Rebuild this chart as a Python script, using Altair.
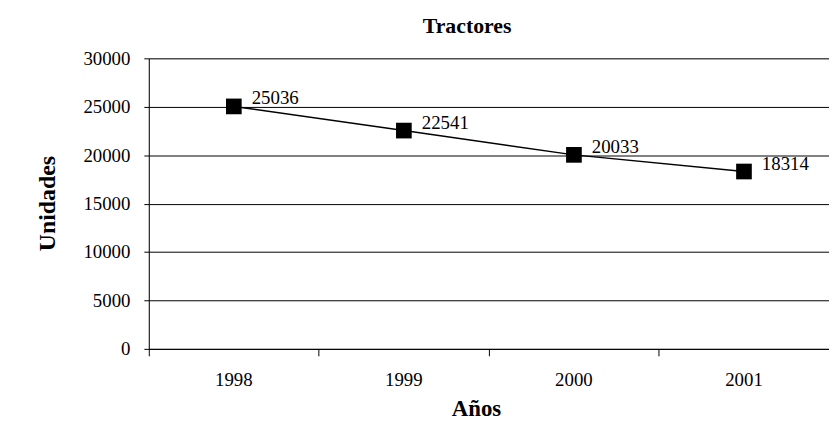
import altair as alt
import pandas as pd

years = ["1998", "1999", "2000", "2001"]
units = [25036, 22541, 20033, 18314]
y_ticks = [0, 5000, 10000, 15000, 20000, 25000, 30000]

df = pd.DataFrame({"year": years, "units": units})

FONT = "Liberation Serif"

xscale = alt.Scale(type="band", paddingInner=0, paddingOuter=0, domain=years)
yscale = alt.Scale(domain=[0, 30000], nice=False)

yaxis = alt.Axis(
    values=y_ticks, format="d", grid=True, gridColor="black", gridOpacity=1,
    gridWidth=1, domainColor="black", tickColor="black", tickSize=5,
    labelPadding=14, labelFont=FONT, labelFontSize=19, labelColor="black",
    title="Unidades", titleFont=FONT, titleFontSize=24, titleFontWeight="bold",
    titleColor="black", titleX=-102, titleY=146, titleAngle=-90,
    titleBaseline="middle", titleAlign="center",
)

base = alt.Chart(df)

line = base.mark_line(color="black", strokeWidth=1.5).encode(
    x=alt.X("year:O", scale=xscale, axis=alt.Axis(
        labelAngle=0, ticks=False, domainColor="black", labelFont=FONT,
        labelFontSize=19, labelColor="black", labelPadding=22,
        title="Años", titleFont=FONT, titleFontSize=23, titleFontWeight="bold",
        titleColor="black", titleX=330, titleY=60, titleBaseline="middle",
        titleAlign="center", grid=False)),
    y=alt.Y("units:Q", scale=yscale, axis=yaxis),
)

pts = base.mark_square(color="black", size=250, opacity=1).encode(
    x=alt.X("year:O", scale=xscale, axis=None),
    y=alt.Y("units:Q", scale=yscale),
)

labels = base.mark_text(
    align="left", baseline="middle", dx=18, dy=-8, font=FONT, fontSize=19,
    color="black",
).encode(
    x=alt.X("year:O", scale=xscale, axis=alt.Axis(
        orient="bottom", bandPosition=0, labels=False, ticks=True, tickSize=7,
        tickColor="black", domain=False, title=None, grid=False)),
    y=alt.Y("units:Q", scale=yscale),
    text=alt.Text("units:Q", format="d"),
)

chart = alt.layer(line, pts, labels).resolve_axis(x="independent").properties(
    width=686, height=293,
    autosize=alt.AutoSizeParams(type="none"),
    padding={"left": 142, "top": 49, "right": 0, "bottom": 74},
    title=alt.TitleParams(
        "Tractores", font=FONT, fontSize=22, fontWeight="bold", color="black",
        anchor="middle", frame="group", dx=-22, offset=12,
    ),
).configure_view(stroke=None).configure(background="white")

chart.save("out.html", embed_options={"renderer": "svg", "actions": False})
